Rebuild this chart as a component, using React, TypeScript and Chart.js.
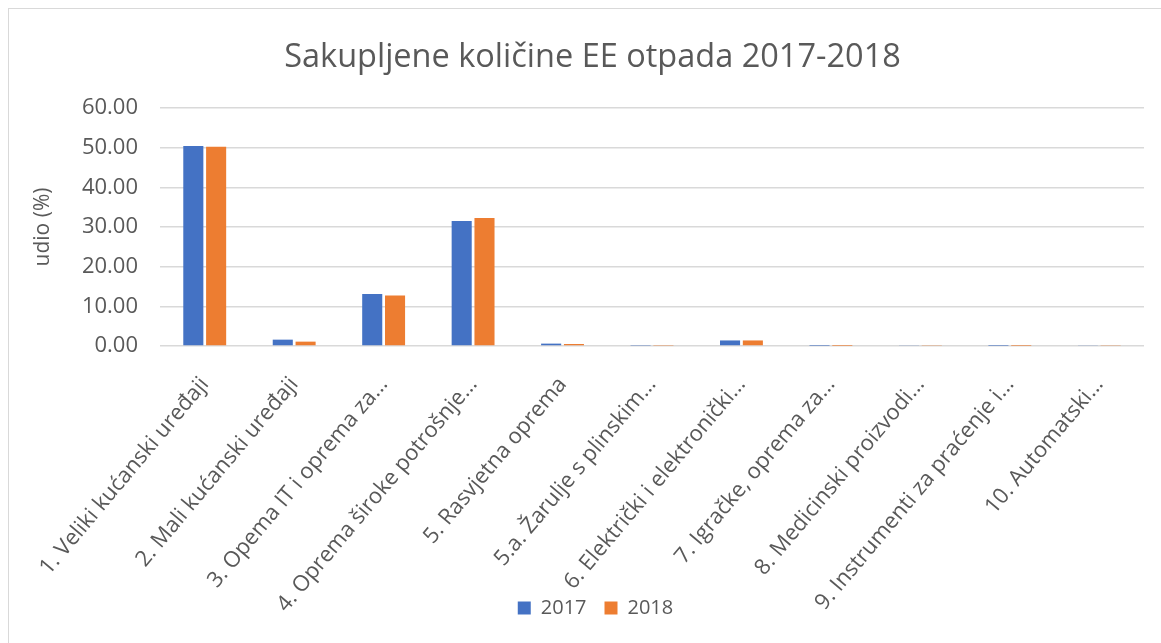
import React, { useEffect, useRef } from 'react';
import { Chart, registerables } from 'chart.js';

Chart.register(...registerables);

const categories = [
  '1. Veliki kućanski uređaji',
  '2. Mali kućanski uređaji',
  '3. Opema IT i oprema za...',
  '4. Oprema široke potrošnje...',
  '5. Rasvjetna oprema',
  '5.a. Žarulje s plinskim...',
  '6. Električki i elektronički...',
  '7. Igračke, oprema za...',
  '8. Medicinski proizvodi...',
  '9. Instrumenti za praćenje i...',
  '10. Automatski...',
];

const series2017 = [50.4, 1.6, 13.1, 31.5, 0.6, 0.1, 1.4, 0.05, 0.15, 0.05, 0.15];
const series2018 = [50.2, 1.1, 12.7, 32.3, 0.5, 0.1, 1.4, 0.03, 0.12, 0.04, 0.12];

const titleText = 'Sakupljene količine EE otpada 2017-2018';
const yTitle = 'udio (%)';
const seriesLabels = ['2017', '2018'];

const FONT = "'Open Sans', sans-serif";
const GRAY = '#595959';

// The source chart is wider than the visible frame, so its title and legend
// are centred slightly to the right of the plot's midpoint.
const centerShift = {
  id: 'centerShift',
  afterLayout(chart: any) {
    if (chart.titleBlock) {
      chart.titleBlock.left += 16;
      chart.titleBlock.right += 16;
    }
    if (chart.legend) {
      chart.legend.left += 19;
      chart.legend.right += 19;
    }
  },
};

export default function App() {
  const ref = useRef<HTMLCanvasElement | null>(null);

  useEffect(() => {
    if (!ref.current) return;
    const chart = new Chart(ref.current, {
      type: 'bar',
      data: {
        labels: categories,
        datasets: [
          {
            label: seriesLabels[0],
            data: series2017,
            backgroundColor: '#4472C4',
            barPercentage: 0.88,
            categoryPercentage: 0.51,
          },
          {
            label: seriesLabels[1],
            data: series2018,
            backgroundColor: '#ED7D31',
            barPercentage: 0.88,
            categoryPercentage: 0.51,
          },
        ],
      },
      plugins: [centerShift],
      options: {
        animation: false,
        responsive: true,
        maintainAspectRatio: false,
        layout: { padding: { left: 0, right: 17, top: 0, bottom: 15 } },
        plugins: {
          title: {
            display: true,
            text: titleText,
            color: GRAY,
            font: { family: FONT, size: 32.5, weight: 'normal' },
            padding: { top: 29, bottom: 31 },
          },
          legend: {
            position: 'bottom',
            labels: {
              color: GRAY,
              font: { family: FONT, size: 20 },
              boxWidth: 13,
              boxHeight: 13,
              padding: 18,
            },
          },
          tooltip: { enabled: false },
        },
        scales: {
          x: {
            grid: { display: false, drawTicks: false },
            border: { display: false },
            ticks: {
              color: GRAY,
              font: { family: FONT, size: 22 },
              minRotation: 50,
              maxRotation: 50,
              autoSkip: false,
              padding: 26,
            },
            afterFit: (scale: any) => {
              scale.height = 234;
              // let the long rotated labels run past the axis box, as in the source
              scale._computeLabelArea = () => undefined;
            },
          },
          y: {
            min: 0,
            max: 60,
            grid: { color: '#D9D9D9', lineWidth: 1.5, drawTicks: false },
            border: { display: false },
            ticks: {
              stepSize: 10,
              color: GRAY,
              font: { family: FONT, size: 22 },
              padding: 22,
              callback: (v: any) => Number(v).toFixed(2),
            },
            title: {
              display: true,
              text: yTitle,
              color: GRAY,
              font: { family: FONT, size: 21 },
              padding: { top: 21, bottom: 0 },
            },
            afterFit: (scale: any) => {
              scale.width = 151;
            },
          },
        },
      },
    });
    return () => chart.destroy();
  }, []);

  return (
    <div
      style={{
        position: 'absolute',
        left: 8,
        top: 8,
        width: 1153,
        height: 635,
        boxSizing: 'border-box',
        borderLeft: '1px solid #D9D9D9',
        borderTop: '1px solid #D9D9D9',
        background: '#fff',
      }}
    >
      <div style={{ position: 'relative', width: 1152, height: 634 }}>
        <canvas ref={ref} />
      </div>
    </div>
  );
}
